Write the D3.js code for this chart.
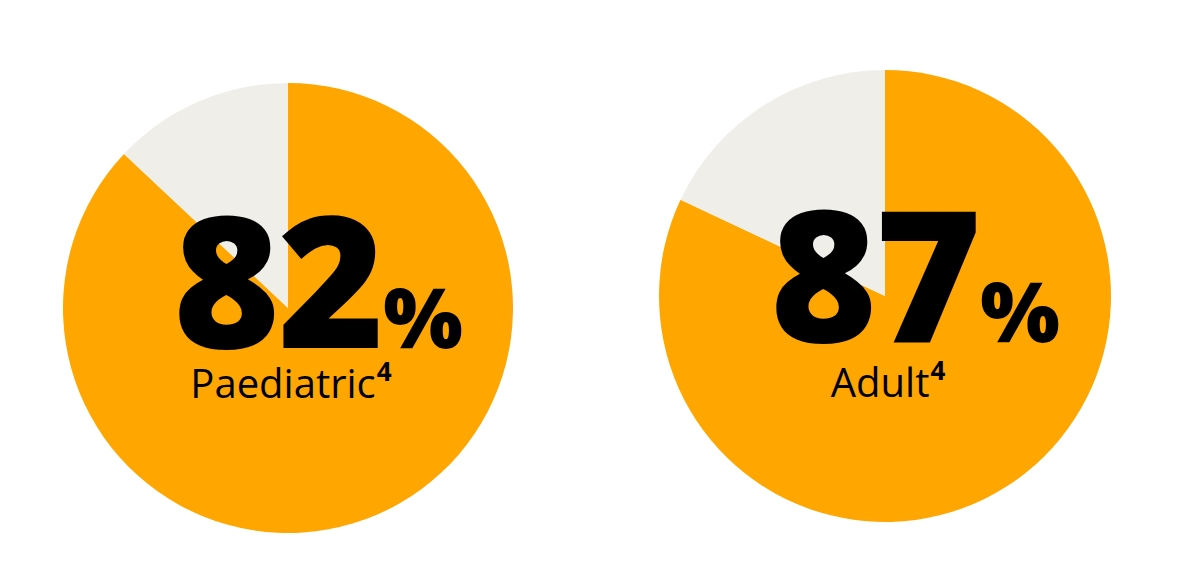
<!DOCTYPE html>
<html>
<head>
<meta charset="utf-8">
<script src="https://cdn.jsdelivr.net/npm/d3@7"></script>
<style>
  html, body { margin: 0; padding: 0; background: #ffffff; }
  svg { display: block; }
  text { font-family: "Open Sans", "Noto Sans", sans-serif; }
</style>
</head>
<body>
<svg id="chart" width="1200" height="574"></svg>
<script>
// ---- data ----
const groups = ["Paediatric", "Adult"];
const headlineValues = [82, 87];          // numbers printed in the centre
const filledShare = [87, 82];             // orange share of each pie as drawn
const footnotes = ["4", "4"];

// ---- layout ----
const W = 1200, H = 574;
const centers = [{x: 288, y: 308, r: 225, numDy: 40}, {x: 885, y: 296, r: 226, numDy: 46}];
const colors = {filled: "#FFA700", rest: "#EFEEE9", text: "#000000"};

const svg = d3.select("#chart");

const pie = d3.pie().sort(null).value(d => d.v);

groups.forEach((g, i) => {
  const c = centers[i];
  const arc = d3.arc().innerRadius(0).outerRadius(c.r);
  const gEl = svg.append("g").attr("transform", `translate(${c.x},${c.y})`);
  const parts = [{k: "filled", v: filledShare[i]}, {k: "rest", v: 100 - filledShare[i]}];
  gEl.selectAll("path").data(pie(parts)).join("path")
    .attr("d", arc)
    .attr("fill", d => colors[d.data.k]);

  // big number
  gEl.append("text")
    .attr("x", -10).attr("y", c.numDy)
    .attr("text-anchor", "middle")
    .attr("font-size", 182).attr("font-weight", 800)
    .attr("fill", colors.text)
    .attr("letter-spacing", -2)
    .text(headlineValues[i]);
  gEl.append("text")
    .attr("x", 135).attr("y", c.numDy)
    .attr("text-anchor", "middle")
    .attr("font-size", 84).attr("font-weight", 800)
    .attr("fill", colors.text)
    .text("%");

  // label with superscript
  const lbl = gEl.append("text")
    .attr("x", 3).attr("y", 398 - c.y + (i === 1 ? -1 : 0))
    .attr("text-anchor", "middle")
    .attr("font-size", 40).attr("font-weight", 400)
    .attr("fill", colors.text);
  lbl.append("tspan").text(g);
  lbl.append("tspan").attr("dy", -17).attr("dx", 1).attr("font-size", 26).attr("font-weight", 700).text(footnotes[i]);
});
</script>
</body>
</html>
